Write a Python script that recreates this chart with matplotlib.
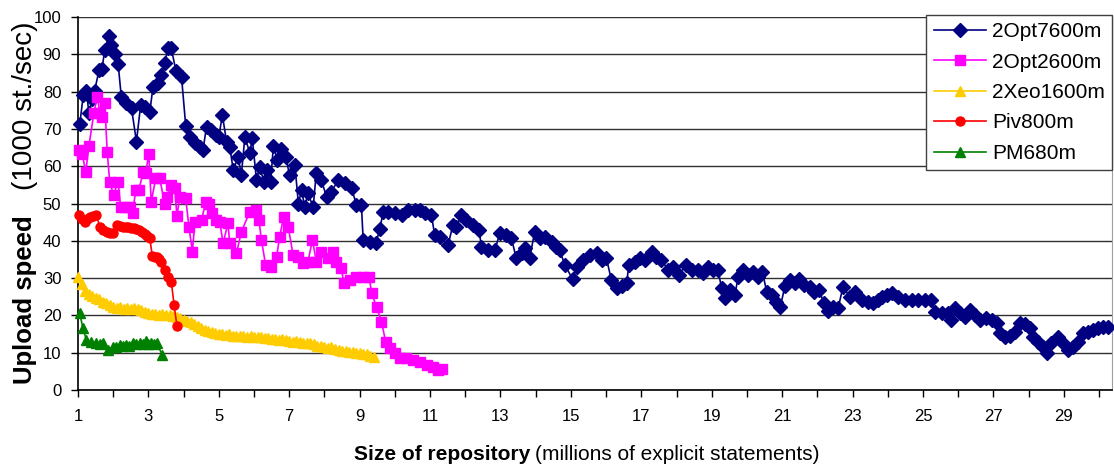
import matplotlib
matplotlib.use("Agg")
import matplotlib.pyplot as plt

plt.rcParams['font.family'] = ['Liberation Sans', 'DejaVu Sans']

# --- data (x in millions of statements, y in 1000 st./sec)
opt7600_x = [1.05, 1.15, 1.24, 1.31, 1.40, 1.47, 1.60, 1.68, 1.76, 1.87, 1.95, 2.04, 2.14, 2.23,
             2.37, 2.52, 2.66, 2.78, 2.90, 3.04, 3.13, 3.27, 3.37, 3.46, 3.56, 3.65, 3.78, 3.94,
             4.06, 4.17, 4.32, 4.46, 4.55, 4.65, 4.79, 4.93, 5.00, 5.10, 5.22, 5.31, 5.41, 5.55,
             5.64, 5.74, 5.88, 5.95, 6.07, 6.16, 6.28, 6.37, 6.47, 6.55, 6.66, 6.78, 6.90, 7.01,
             7.16, 7.26, 7.35, 7.44, 7.53, 7.68, 7.77, 7.91, 8.06, 8.20, 8.39, 8.58, 8.77, 8.91,
             9.05, 9.10, 9.29, 9.46, 9.57, 9.67, 9.81, 10.00, 10.19, 10.38, 10.57, 10.71, 10.85,
             11.04, 11.13, 11.28, 11.51, 11.65, 11.75, 11.89, 12.03, 12.22, 12.39, 12.46, 12.65,
             12.84, 12.98, 13.17, 13.31, 13.45, 13.60, 13.69, 13.83, 13.97, 14.12, 14.26, 14.45,
             14.59, 14.68, 14.83, 15.05, 15.16, 15.35, 15.54, 15.75, 15.87, 16.01, 16.15, 16.30,
             16.44, 16.58, 16.65, 16.81, 16.96, 17.10, 17.29, 17.43, 17.57, 17.76, 17.90, 18.07,
             18.26, 18.43, 18.61, 18.76, 18.90, 19.04, 19.18, 19.28, 19.37, 19.51, 19.66, 19.75,
             19.89, 20.03, 20.18, 20.32, 20.44, 20.56, 20.70, 20.84, 20.95, 21.08, 21.22, 21.36,
             21.48, 21.62, 21.79, 21.90, 22.05, 22.19, 22.31, 22.45, 22.59, 22.73, 22.92, 23.07,
             23.26, 23.44, 23.59, 23.73, 23.85, 23.97, 24.11, 24.30, 24.49, 24.68, 24.86, 25.05,
             25.24, 25.34, 25.53, 25.72, 25.81, 25.90, 26.05, 26.19, 26.33, 26.47, 26.62, 26.80,
             26.95, 27.09, 27.18, 27.33, 27.47, 27.61, 27.75, 27.89, 28.04, 28.13, 28.27, 28.42,
             28.51, 28.65, 28.84, 28.98, 29.13, 29.27, 29.41, 29.55, 29.69, 29.84, 29.98, 30.12,
             30.26]
opt7600_y = [71.3, 79.0, 80.2, 74.2, 78.0, 80.2, 85.8, 86.0, 91.2, 94.9, 92.5, 90.0, 87.4, 78.6,
             76.9, 75.5, 66.6, 76.4, 75.8, 74.6, 81.2, 82.2, 84.5, 87.7, 91.6, 91.6, 85.6, 84.0,
             70.8, 67.9, 66.1, 65.2, 64.3, 70.6, 69.7, 68.4, 67.9, 73.7, 66.6, 65.2, 59.0, 62.5,
             57.6, 67.9, 63.5, 67.5, 56.3, 59.9, 55.8, 59.0, 55.8, 65.4, 61.7, 64.5, 62.5, 57.6,
             60.3, 50.0, 53.6, 49.1, 52.7, 49.1, 58.3, 56.3, 51.8, 53.2, 56.3, 55.4, 54.1, 49.6,
             49.6, 40.2, 39.8, 39.3, 43.1, 47.8, 47.8, 47.4, 46.9, 48.3, 48.3, 48.3, 47.4,
             46.9, 41.6, 41.1, 38.9, 44.2, 43.8, 46.9, 45.6, 44.2, 42.9, 38.4, 37.5,
             37.5, 42.0, 41.6, 40.7, 35.3, 36.6, 38.0, 35.3, 42.4, 40.7, 41.1, 39.6,
             38.4, 37.5, 33.5, 29.7, 32.9, 34.9, 36.2, 36.8, 34.9, 35.3, 29.5, 27.3,
             27.9, 28.6, 33.5, 34.4, 35.3, 34.9, 37.1, 35.7, 34.9, 32.2, 33.1, 30.8,
             33.5, 32.2, 32.2, 31.3, 32.9, 32.2, 32.2, 27.3, 24.6, 26.8, 25.5, 30.4,
             32.2, 30.8, 31.7, 30.4, 31.7, 26.4, 25.5, 23.7, 22.3, 27.9, 29.5, 28.6,
             29.7, 28.2, 27.7, 26.4, 26.8, 23.2, 21.2, 22.3, 21.9, 27.7, 25.0, 26.4,
             24.1, 23.7, 23.2, 24.1, 24.8, 25.5, 25.9, 25.0, 24.1, 24.1, 24.1, 24.1,
             24.1, 21.0, 20.6, 20.6, 18.8, 21.9, 20.6, 19.7, 21.4, 20.1, 18.8, 19.2,
             18.8, 17.9, 15.2, 14.3, 14.5, 15.6, 17.9, 17.7, 16.5, 14.3, 12.9, 11.6,
             9.8, 12.5, 14.3, 12.5, 10.7, 11.6, 12.9, 15.2, 15.6, 16.1, 16.5, 17.0,
             17.0]

opt2600_x = [1.03, 1.12, 1.22, 1.31, 1.45, 1.55, 1.62, 1.69, 1.76, 1.83, 1.90, 2.01, 2.14, 2.21,
             2.33, 2.47, 2.55, 2.64, 2.73, 2.85, 2.92, 3.01, 3.08, 3.21, 3.32, 3.46, 3.53, 3.63,
             3.75, 3.81, 3.89, 4.06, 4.15, 4.25, 4.32, 4.51, 4.63, 4.72, 4.82, 4.93, 5.03, 5.12,
             5.26, 5.31, 5.50, 5.64, 5.88, 6.05, 6.14, 6.21, 6.33, 6.49, 6.64, 6.73, 6.84, 6.97,
             7.11, 7.25, 7.39, 7.53, 7.66, 7.77, 7.91, 8.10, 8.23, 8.34, 8.48, 8.55, 8.72, 8.91,
             9.10, 9.27, 9.34, 9.48, 9.62, 9.74, 9.86, 10.00, 10.14, 10.33, 10.52, 10.71, 10.90,
             11.09, 11.23, 11.35]
opt2600_y = [64.3, 63.3, 58.5, 65.4, 74.2, 78.6, 74.2, 73.3, 76.9, 63.9, 55.8, 52.3, 55.8, 49.1,
             49.1, 49.1, 47.4, 53.6, 53.6, 58.5, 58.1, 63.3, 50.5, 56.8, 56.8, 50.0, 51.8, 55.0,
             54.1, 46.6, 51.8, 51.4, 43.8, 37.1, 45.1, 45.6, 50.5, 50.0, 47.4, 45.6, 45.1, 39.3,
             44.7, 39.3, 36.6, 42.4, 47.8, 48.3, 45.6, 40.2, 33.5, 32.9, 35.7, 41.1, 46.5, 43.8,
             36.2, 35.7, 34.0, 34.4, 40.2, 34.4, 37.1, 35.3, 37.1, 34.4, 32.6, 28.6, 29.5, 30.4,
             30.4, 30.4, 25.9, 22.3, 18.3, 12.9, 11.2, 9.8, 8.5, 8.5, 8.0, 7.6, 6.7,
             6.2, 5.4, 5.5]

xeo1600_x = [1.0, 1.1, 1.2, 1.3, 1.4, 1.5, 1.6, 1.7, 1.8, 1.9, 2.0, 2.1, 2.2, 2.3, 2.4, 2.5,
             2.6, 2.7, 2.8, 2.9, 3.0, 3.1, 3.2, 3.3, 3.4, 3.5, 3.6, 3.7, 3.8, 3.9, 4.0, 4.1,
             4.2, 4.3, 4.4, 4.5, 4.6, 4.7, 4.8, 4.9, 5.0, 5.1, 5.2, 5.3, 5.4, 5.5, 5.6, 5.7,
             5.8, 5.9, 6.0, 6.1, 6.2, 6.3, 6.4, 6.5, 6.6, 6.7, 6.8, 6.9, 7.0, 7.1, 7.2, 7.3,
             7.4, 7.5, 7.6, 7.7, 7.8, 7.9, 8.0, 8.1, 8.2, 8.3, 8.4, 8.5, 8.6, 8.7, 8.8, 8.9,
             9.0, 9.1, 9.2, 9.3, 9.4]
xeo1600_y = [30.4, 28.5, 26.5, 25.8, 25.2, 24.6, 24.3, 23.7, 23.4, 22.8, 22.3, 21.9, 22.2, 21.8,
             22.1, 21.7, 22.0, 21.6, 21.4, 21.0, 20.6, 20.3, 20.5, 20.1, 20.4, 20.0, 20.2, 19.8,
             19.6, 19.3, 18.9, 18.5, 18.1, 17.6, 17.2, 16.6, 16.0, 15.7, 15.5, 15.3, 15.1, 14.9,
             14.8, 14.9, 14.6, 14.5, 14.6, 14.4, 14.3, 14.5, 14.3, 14.1, 14.2, 13.9, 14.0, 13.8,
             13.6, 13.5, 13.6, 13.3, 13.2, 13.0, 13.1, 12.8, 12.6, 12.5, 12.6, 12.2, 11.9, 11.7,
             11.5, 11.3, 11.4, 11.0, 10.8, 10.5, 10.4, 10.2, 10.3, 10.0, 9.9, 9.7, 9.6, 9.2, 8.9]

piv800_x = [1.04, 1.12, 1.19, 1.26, 1.33, 1.43, 1.52, 1.62, 1.71, 1.81, 1.90, 1.98, 2.11, 2.20,
            2.28, 2.35, 2.42, 2.50, 2.58, 2.66, 2.73, 2.81, 2.89, 2.97, 3.04, 3.11, 3.18, 3.24,
            3.31, 3.37, 3.46, 3.56, 3.65, 3.73, 3.81]
piv800_y = [46.9, 45.8, 45.1, 45.9, 46.5, 46.7, 46.9, 43.8, 43.0, 42.4, 42.1, 42.0, 44.2, 43.9,
            43.8, 43.6, 43.8, 43.5, 43.4, 43.1, 42.9, 42.3, 41.8, 41.3, 40.7, 35.9, 35.7, 35.6,
            35.0, 34.4, 32.2, 30.4, 29.0, 22.8, 17.2]

pm680_x = [1.05, 1.14, 1.24, 1.38, 1.52, 1.62, 1.71, 1.85, 1.99, 2.09, 2.18, 2.27, 2.37, 2.46,
           2.56, 2.66, 2.75, 2.84, 2.92, 3.00, 3.08, 3.16, 3.23, 3.40]
pm680_y = [20.6, 16.5, 13.4, 12.9, 12.7, 12.4, 12.5, 10.7, 11.6, 11.5, 12.1, 11.8, 12.1, 11.9,
           12.5, 12.2, 12.5, 12.3, 13.2, 12.4, 12.7, 12.3, 12.5, 9.4]

series = [
    ("2Opt7600m", opt7600_x, opt7600_y, "#000080", "D", 7.2),
    ("2Opt2600m", opt2600_x, opt2600_y, "#FF00FF", "s", 6.5),
    ("2Xeo1600m", xeo1600_x, xeo1600_y, "#FFCC00", "^", 7.5),
    ("Piv800m", piv800_x, piv800_y, "#FF0000", "o", 6.5),
    ("PM680m", pm680_x, pm680_y, "#008000", "^", 7.5),
]

W, H = 1114, 474


def fx(px):
    return px / W


def fy(py):
    return 1 - py / H


fig = plt.figure(figsize=(W / 100, H / 100), dpi=100)
ax = fig.add_axes([fx(78), fy(390), fx(1112) - fx(78), fy(17) - fy(390)])

for name, xs, ys, color, marker, ms in series:
    ax.plot(xs, ys, color=color, lw=1.2, marker=marker, ms=ms,
            markeredgecolor=color, markerfacecolor=color, label=name,
            clip_on=False, zorder=3)

ax.set_xlim(1, 30.37)
ax.set_ylim(0, 100)
ax.set_yticks(range(0, 101, 10))
ax.set_xticks(range(1, 31))
ax.set_xticklabels([str(i) if i % 2 else "" for i in range(1, 31)])

ax.yaxis.grid(True, color="#303030", lw=1)
ax.set_axisbelow(True)
ax.tick_params(axis="y", direction="out", length=5, width=1, pad=7, labelsize=12)
ax.tick_params(axis="x", direction="out", length=5, width=1, pad=9, labelsize=12)

ax.spines["top"].set_visible(False)
ax.spines["right"].set_color("#a0a0a0")
ax.spines["left"].set_color("black")
ax.spines["bottom"].set_color("black")
ax.spines["left"].set_linewidth(1.2)
ax.spines["bottom"].set_linewidth(1.2)

leg = ax.legend(loc="upper right", bbox_to_anchor=(1.0, 1.006), fontsize=15,
                frameon=True, fancybox=False, framealpha=1, edgecolor="#404040",
                handlelength=2.5, handletextpad=0.3, labelspacing=0.55,
                borderpad=0.35, borderaxespad=0)
leg.get_frame().set_linewidth(1)
leg.set_zorder(5)

# axis titles: bold part + regular part
fig.text(fx(530), fy(455), "Size of repository", ha="right", va="center",
         fontsize=15, fontweight="bold")
fig.text(fx(535), fy(455), "(millions of explicit statements)", ha="left", va="center",
         fontsize=15)
fig.text(fx(25), fy(384), "Upload speed", rotation=90, ha="center", va="bottom",
         fontsize=18.5, fontweight="bold")
fig.text(fx(25), fy(21), "(1000 st./sec)", rotation=90, ha="center", va="top",
         fontsize=20)

fig.savefig("out.png", dpi=100)
